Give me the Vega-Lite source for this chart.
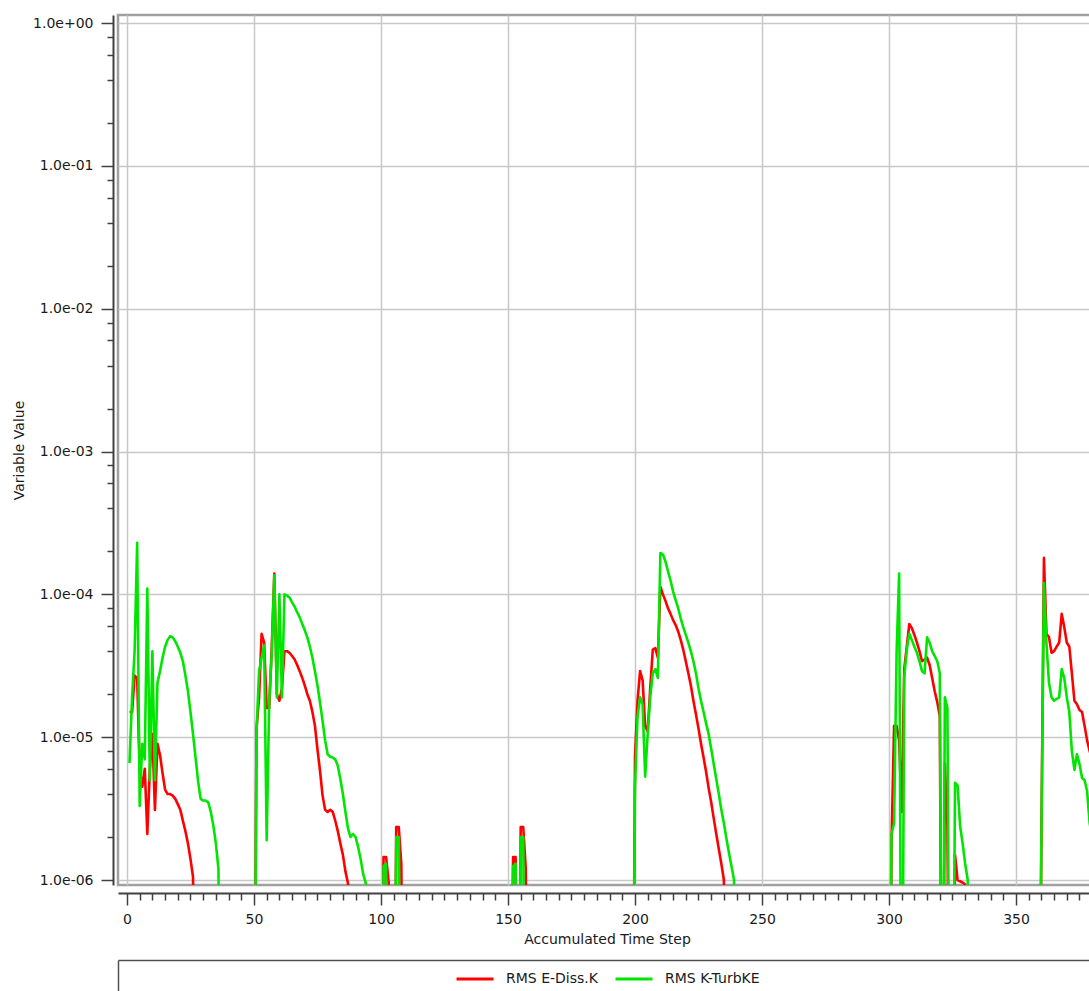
{
 "$schema": "https://vega.github.io/schema/vega-lite/v6.json",
 "autosize": {"type": "none"},
 "padding": {"left": 118, "top": 15, "right": 0, "bottom": 106},
 "width": 978,
 "height": 870,
 "background": "white",
 "config": {"view": {"stroke": "#a0a0a0", "strokeWidth": 2.5}, "font": "DejaVu Sans"},
 "datasets": {
  "red": [
   {"t":1,"v":1.5e-5},{"t":2,"v":1.5e-5},{"t":3,"v":2.7e-5},{"t":4,"v":2.6e-5},{"t":5,"v":6e-6},{"t":6,"v":4.5e-6},{"t":7,"v":6e-6},{"t":8,"v":2.1e-6},{"t":9,"v":6e-6},{"t":10,"v":1.05e-5},{"t":11,"v":3.1e-6},{"t":12,"v":9e-6},{"t":13,"v":7.5e-6},{"t":14,"v":5.6e-6},{"t":15,"v":4.3e-6},{"t":16,"v":4.0e-6},{"t":17,"v":4.0e-6},{"t":18,"v":3.9e-6},{"t":19,"v":3.7e-6},{"t":20,"v":3.4e-6},{"t":21,"v":3.1e-6},{"t":22,"v":2.6e-6},{"t":23,"v":2.2e-6},{"t":24,"v":1.8e-6},{"t":25,"v":1.4e-6},{"t":26,"v":1.05e-6},{"t":27,"v":1e-8},
   {"t":50,"v":1e-8},{"t":51,"v":1.15e-5},{"t":52,"v":1.9e-5},{"t":53,"v":5.3e-5},{"t":54,"v":4.6e-5},{"t":55,"v":1.6e-5},{"t":56,"v":1.6e-5},{"t":57,"v":4.3e-5},{"t":58,"v":1.4e-4},{"t":59,"v":2.0e-5},{"t":60,"v":1.8e-5},{"t":61,"v":2.2e-5},{"t":62,"v":4.0e-5},{"t":63,"v":4.0e-5},{"t":64,"v":3.9e-5},{"t":65,"v":3.7e-5},{"t":66,"v":3.5e-5},{"t":67,"v":3.2e-5},{"t":68,"v":2.9e-5},{"t":69,"v":2.6e-5},{"t":70,"v":2.3e-5},{"t":71,"v":2.0e-5},{"t":72,"v":1.8e-5},{"t":73,"v":1.5e-5},{"t":74,"v":1.2e-5},{"t":75,"v":8.2e-6},{"t":76,"v":5.8e-6},{"t":77,"v":3.9e-6},{"t":78,"v":3.1e-6},{"t":79,"v":3.0e-6},{"t":80,"v":3.1e-6},{"t":81,"v":3.0e-6},{"t":82,"v":2.6e-6},{"t":83,"v":2.2e-6},{"t":84,"v":1.8e-6},{"t":85,"v":1.5e-6},{"t":86,"v":1.15e-6},{"t":87,"v":9.5e-7},{"t":88,"v":1e-8},
   {"t":100,"v":1e-8},{"t":101,"v":1.45e-6},{"t":102,"v":1.45e-6},{"t":103,"v":9.8e-7},{"t":104,"v":1e-8},{"t":105,"v":1e-8},{"t":106,"v":2.35e-6},{"t":107,"v":2.35e-6},{"t":108,"v":1.3e-6},{"t":109,"v":1e-8},
   {"t":151,"v":1e-8},{"t":152,"v":1.45e-6},{"t":153,"v":1.45e-6},{"t":154,"v":1e-8},{"t":155,"v":2.35e-6},{"t":156,"v":2.35e-6},{"t":157,"v":1.2e-6},{"t":158,"v":1e-8},
   {"t":199,"v":1e-8},{"t":200,"v":7.3e-6},{"t":201,"v":1.8e-5},{"t":202,"v":2.9e-5},{"t":203,"v":2.5e-5},{"t":204,"v":1.2e-5},{"t":205,"v":1.1e-5},{"t":206,"v":2.2e-5},{"t":207,"v":4.1e-5},{"t":208,"v":4.2e-5},{"t":209,"v":3.6e-5},{"t":210,"v":1.13e-4},{"t":211,"v":1.0e-4},{"t":212,"v":9.0e-5},{"t":213,"v":8.0e-5},{"t":214,"v":7.3e-5},{"t":215,"v":6.6e-5},{"t":216,"v":6.1e-5},{"t":217,"v":5.5e-5},{"t":218,"v":4.8e-5},{"t":219,"v":4.1e-5},{"t":220,"v":3.4e-5},{"t":221,"v":2.8e-5},{"t":222,"v":2.3e-5},{"t":223,"v":1.8e-5},{"t":224,"v":1.45e-5},{"t":225,"v":1.15e-5},{"t":226,"v":9.0e-6},{"t":227,"v":7.2e-6},{"t":228,"v":5.7e-6},{"t":229,"v":4.4e-6},{"t":230,"v":3.5e-6},{"t":231,"v":2.7e-6},{"t":232,"v":2.1e-6},{"t":233,"v":1.65e-6},{"t":234,"v":1.3e-6},{"t":235,"v":1.0e-6},{"t":236,"v":1e-8},
   {"t":300,"v":1e-8},{"t":301,"v":1.8e-6},{"t":302,"v":1.2e-5},{"t":303,"v":1.2e-5},{"t":304,"v":9.5e-6},{"t":305,"v":3e-6},{"t":306,"v":3e-5},{"t":307,"v":4.3e-5},{"t":308,"v":6.2e-5},{"t":309,"v":5.8e-5},{"t":310,"v":5.2e-5},{"t":311,"v":4.6e-5},{"t":312,"v":4.0e-5},{"t":313,"v":3.4e-5},{"t":314,"v":3.5e-5},{"t":315,"v":3.6e-5},{"t":316,"v":3.2e-5},{"t":317,"v":2.6e-5},{"t":318,"v":2.1e-5},{"t":319,"v":1.76e-5},{"t":320,"v":1.4e-5},{"t":321,"v":1e-8},{"t":322,"v":6.5e-6},{"t":323,"v":2.4e-6},{"t":324,"v":1e-8},{"t":325,"v":1e-8},{"t":326,"v":1.5e-6},{"t":327,"v":1.0e-6},{"t":328,"v":9.8e-7},{"t":329,"v":9.6e-7},{"t":330,"v":9.3e-7},{"t":331,"v":1e-8},
   {"t":359,"v":1e-8},{"t":360,"v":2e-6},{"t":361,"v":1.8e-4},{"t":362,"v":5.3e-5},{"t":363,"v":5.0e-5},{"t":364,"v":3.9e-5},{"t":365,"v":4.0e-5},{"t":366,"v":4.3e-5},{"t":367,"v":4.6e-5},{"t":368,"v":7.3e-5},{"t":369,"v":5.9e-5},{"t":370,"v":4.6e-5},{"t":371,"v":4.3e-5},{"t":372,"v":2.8e-5},{"t":373,"v":1.8e-5},{"t":374,"v":1.7e-5},{"t":375,"v":1.55e-5},{"t":376,"v":1.5e-5},{"t":377,"v":1.2e-5},{"t":378,"v":9.5e-6},{"t":379,"v":8e-6},{"t":380,"v":7e-6},{"t":381,"v":6e-6},{"t":382,"v":5.5e-6}
  ],
  "green": [
   {"t":1,"v":6.6e-6},{"t":2,"v":1.9e-5},{"t":3,"v":4e-5},{"t":4,"v":2.3e-4},{"t":5,"v":3.3e-6},{"t":6,"v":9e-6},{"t":7,"v":7e-6},{"t":8,"v":1.1e-4},{"t":9,"v":5e-6},{"t":10,"v":4e-5},{"t":11,"v":5e-6},{"t":12,"v":2.4e-5},{"t":13,"v":2.9e-5},{"t":14,"v":3.6e-5},{"t":15,"v":4.3e-5},{"t":16,"v":4.8e-5},{"t":17,"v":5.1e-5},{"t":18,"v":5.0e-5},{"t":19,"v":4.7e-5},{"t":20,"v":4.3e-5},{"t":21,"v":3.9e-5},{"t":22,"v":3.4e-5},{"t":23,"v":2.7e-5},{"t":24,"v":2.1e-5},{"t":25,"v":1.5e-5},{"t":26,"v":1.05e-5},{"t":27,"v":7.2e-6},{"t":28,"v":4.9e-6},{"t":29,"v":3.7e-6},{"t":30,"v":3.6e-6},{"t":31,"v":3.6e-6},{"t":32,"v":3.5e-6},{"t":33,"v":3.0e-6},{"t":34,"v":2.4e-6},{"t":35,"v":1.8e-6},{"t":36,"v":1.2e-6},{"t":37,"v":1e-8},
   {"t":50,"v":1e-8},{"t":51,"v":1.1e-5},{"t":52,"v":2.9e-5},{"t":53,"v":3.6e-5},{"t":54,"v":4.4e-5},{"t":55,"v":1.9e-6},{"t":56,"v":1.8e-5},{"t":57,"v":3.9e-5},{"t":58,"v":1.36e-4},{"t":59,"v":1.9e-5},{"t":60,"v":1.0e-4},{"t":61,"v":1.9e-5},{"t":62,"v":1.0e-4},{"t":63,"v":9.8e-5},{"t":64,"v":9.5e-5},{"t":65,"v":8.8e-5},{"t":66,"v":8.2e-5},{"t":67,"v":7.5e-5},{"t":68,"v":6.9e-5},{"t":69,"v":6.2e-5},{"t":70,"v":5.6e-5},{"t":71,"v":5.0e-5},{"t":72,"v":4.3e-5},{"t":73,"v":3.6e-5},{"t":74,"v":2.9e-5},{"t":75,"v":2.3e-5},{"t":76,"v":1.75e-5},{"t":77,"v":1.3e-5},{"t":78,"v":9.5e-6},{"t":79,"v":7.6e-6},{"t":80,"v":7.3e-6},{"t":81,"v":7.2e-6},{"t":82,"v":7.0e-6},{"t":83,"v":6.3e-6},{"t":84,"v":5.1e-6},{"t":85,"v":4.0e-6},{"t":86,"v":3.0e-6},{"t":87,"v":2.3e-6},{"t":88,"v":2.0e-6},{"t":89,"v":2.1e-6},{"t":90,"v":2.0e-6},{"t":91,"v":1.7e-6},{"t":92,"v":1.4e-6},{"t":93,"v":1.1e-6},{"t":94,"v":9.5e-7},{"t":95,"v":1e-8},
   {"t":100,"v":1e-8},{"t":101,"v":1.25e-6},{"t":102,"v":1.3e-6},{"t":103,"v":1e-8},{"t":105,"v":1e-8},{"t":106,"v":2.0e-6},{"t":107,"v":2.0e-6},{"t":108,"v":1e-8},
   {"t":151,"v":1e-8},{"t":152,"v":1.25e-6},{"t":153,"v":1.3e-6},{"t":154,"v":1e-8},{"t":155,"v":2.0e-6},{"t":156,"v":2.0e-6},{"t":157,"v":1e-8},
   {"t":199,"v":1e-8},{"t":200,"v":4.5e-6},{"t":201,"v":1.4e-5},{"t":202,"v":1.9e-5},{"t":203,"v":1.7e-5},{"t":204,"v":5.3e-6},{"t":205,"v":1.05e-5},{"t":206,"v":1.9e-5},{"t":207,"v":2.8e-5},{"t":208,"v":3.0e-5},{"t":209,"v":2.6e-5},{"t":210,"v":1.95e-4},{"t":211,"v":1.9e-4},{"t":212,"v":1.7e-4},{"t":213,"v":1.45e-4},{"t":214,"v":1.25e-4},{"t":215,"v":1.05e-4},{"t":216,"v":9.1e-5},{"t":217,"v":8.0e-5},{"t":218,"v":6.8e-5},{"t":219,"v":5.9e-5},{"t":220,"v":5.2e-5},{"t":221,"v":4.6e-5},{"t":222,"v":4.0e-5},{"t":223,"v":3.4e-5},{"t":224,"v":2.8e-5},{"t":225,"v":2.2e-5},{"t":226,"v":1.8e-5},{"t":227,"v":1.5e-5},{"t":228,"v":1.25e-5},{"t":229,"v":1.05e-5},{"t":230,"v":8.3e-6},{"t":231,"v":6.5e-6},{"t":232,"v":5.1e-6},{"t":233,"v":4.0e-6},{"t":234,"v":3.1e-6},{"t":235,"v":2.5e-6},{"t":236,"v":1.95e-6},{"t":237,"v":1.55e-6},{"t":238,"v":1.25e-6},{"t":239,"v":1.0e-6},{"t":240,"v":1e-8},
   {"t":300,"v":1e-8},{"t":301,"v":2.1e-6},{"t":302,"v":2.5e-6},{"t":303,"v":4e-5},{"t":304,"v":1.4e-4},{"t":305,"v":1e-8},{"t":306,"v":2.6e-5},{"t":307,"v":4.1e-5},{"t":308,"v":5.3e-5},{"t":309,"v":4.8e-5},{"t":310,"v":4.3e-5},{"t":311,"v":3.9e-5},{"t":312,"v":3.4e-5},{"t":313,"v":2.9e-5},{"t":314,"v":2.8e-5},{"t":315,"v":5e-5},{"t":316,"v":4.6e-5},{"t":317,"v":4.0e-5},{"t":318,"v":3.7e-5},{"t":319,"v":3.4e-5},{"t":320,"v":2.8e-5},{"t":321,"v":1e-8},{"t":322,"v":1.9e-5},{"t":323,"v":1.6e-5},{"t":324,"v":1e-8},{"t":325,"v":1e-8},{"t":326,"v":4.8e-6},{"t":327,"v":4.6e-6},{"t":328,"v":2.4e-6},{"t":329,"v":1.8e-6},{"t":330,"v":1.3e-6},{"t":331,"v":1.0e-6},{"t":332,"v":1e-8},
   {"t":359,"v":1e-8},{"t":360,"v":2.0e-6},{"t":361,"v":1.2e-4},{"t":362,"v":4.5e-5},{"t":363,"v":2.4e-5},{"t":364,"v":1.9e-5},{"t":365,"v":1.8e-5},{"t":366,"v":1.85e-5},{"t":367,"v":1.9e-5},{"t":368,"v":3.0e-5},{"t":369,"v":2.6e-5},{"t":370,"v":1.9e-5},{"t":371,"v":1.5e-5},{"t":372,"v":8e-6},{"t":373,"v":5.9e-6},{"t":374,"v":7.6e-6},{"t":375,"v":6.5e-6},{"t":376,"v":5.2e-6},{"t":377,"v":5.0e-6},{"t":378,"v":4.2e-6},{"t":379,"v":2.5e-6},{"t":380,"v":2.0e-6},{"t":381,"v":1.6e-6},{"t":382,"v":1.3e-6}
  ]
 },
 "encoding": {
  "y": {
   "field": "v", "type": "quantitative",
   "scale": {"type": "log", "domain": [9.23e-7, 1.138], "nice": false},
   "axis": {
    "orient": "left", "offset": 5,
    "values": [1e-6,2e-6,4e-6,6e-6,8e-6,1e-5,2e-5,4e-5,6e-5,8e-5,1e-4,2e-4,4e-4,6e-4,8e-4,0.001,0.002,0.004,0.006,0.008,0.01,0.02,0.04,0.06,0.08,0.1,0.2,0.4,0.6,0.8,1],
    "labelExpr": "abs(log(datum.value)/LN10 - round(log(datum.value)/LN10)) < 0.001 ? (datum.value >= 0.5 ? '1.0e+00' : '1.0e-0' + round(-log(datum.value)/LN10)) : ''",
    "grid": true, "gridColor": "#c8c8c8", "gridWidth": 1.5,
    "gridOpacity": {"condition": {"test": "abs(log(datum.value)/LN10 - round(log(datum.value)/LN10)) < 0.001", "value": 1}, "value": 0},
    "tickSize": {"condition": {"test": "abs(log(datum.value)/LN10 - round(log(datum.value)/LN10)) < 0.001", "value": 12}, "value": 6},
    "tickColor": "#404040", "tickWidth": 1.5, "domainColor": "#404040", "domainWidth": 2,
    "labelFont": "DejaVu Sans", "labelFontSize": 14, "labelPadding": 8, "labelColor": "#1a1a1a",
    "labelOverlap": false, "labelFlush": false, "labelBound": false,
    "title": "Variable Value", "titleFont": "DejaVu Sans", "titleFontSize": 14, "titleFontWeight": "normal", "titleColor": "#1a1a1a", "titlePadding": 6
   }
  }
 },
 "layer": [
  {
   "data": {"name": "red"},
   "mark": {"type": "line", "clip": true, "strokeWidth": 2.6, "strokeJoin": "round"},
   "encoding": {
    "color": {
     "datum": "RMS E-Diss.K",
     "scale": {"domain": ["RMS E-Diss.K", "RMS K-TurbKE"], "range": ["#ff0000", "#00e600"]},
     "legend": {"orient": "none", "legendX": 337, "legendY": 944, "direction": "horizontal", "title": null,
       "symbolType": "stroke", "symbolSize": 1369, "symbolStrokeWidth": 3,
       "labelFont": "DejaVu Sans", "labelFontSize": 14, "labelColor": "#1a1a1a", "labelOffset": 11, "columnPadding": 11, "padding": 0}
    },
    "x": {
     "field": "t", "type": "quantitative",
     "scale": {"domain": [-3.54, 381.5], "nice": false, "zero": false},
     "axis": {
      "orient": "bottom", "offset": 8,
      "values": [0,5,10,15,20,25,30,35,40,45,50,55,60,65,70,75,80,85,90,95,100,105,110,115,120,125,130,135,140,145,150,155,160,165,170,175,180,185,190,195,200,205,210,215,220,225,230,235,240,245,250,255,260,265,270,275,280,285,290,295,300,305,310,315,320,325,330,335,340,345,350,355,360,365,370,375,380],
      "format": "d",
      "labelExpr": "datum.value % 50 == 0 ? datum.label : ''",
      "grid": true, "gridColor": "#c8c8c8", "gridWidth": 1.5,
      "gridOpacity": {"condition": {"test": "datum.value % 50 == 0", "value": 1}, "value": 0},
      "tickSize": {"condition": {"test": "datum.value % 50 == 0", "value": 12}, "value": 7},
      "tickColor": "#404040", "tickWidth": 1.5, "domainColor": "#404040", "domainWidth": 2,
      "labelFont": "DejaVu Sans", "labelFontSize": 14, "labelPadding": 7, "labelColor": "#1a1a1a",
      "labelOverlap": false, "labelFlush": false, "labelBound": false,
      "title": "Accumulated Time Step", "titleFont": "DejaVu Sans", "titleFontSize": 14, "titleFontWeight": "normal", "titleColor": "#1a1a1a", "titlePadding": 6
     }
    }
   }
  },
  {
   "data": {"name": "green"},
   "mark": {"type": "line", "clip": true, "strokeWidth": 2.6, "strokeJoin": "round"},
   "encoding": {
    "color": {"datum": "RMS K-TurbKE"},
    "x": {
     "field": "t", "type": "quantitative",
     "scale": {"domain": [-3.54, 381.5], "nice": false, "zero": false},
     "axis": {
      "orient": "bottom", "offset": 75, "values": [-3.54],
      "labels": false, "grid": false, "title": null,
      "tickSize": 50, "tickColor": "#505050", "tickWidth": 1.5, "domainColor": "#505050", "domainWidth": 1.5
     }
    }
   }
  }
 ],
 "resolve": {"axis": {"x": "independent"}}
}
